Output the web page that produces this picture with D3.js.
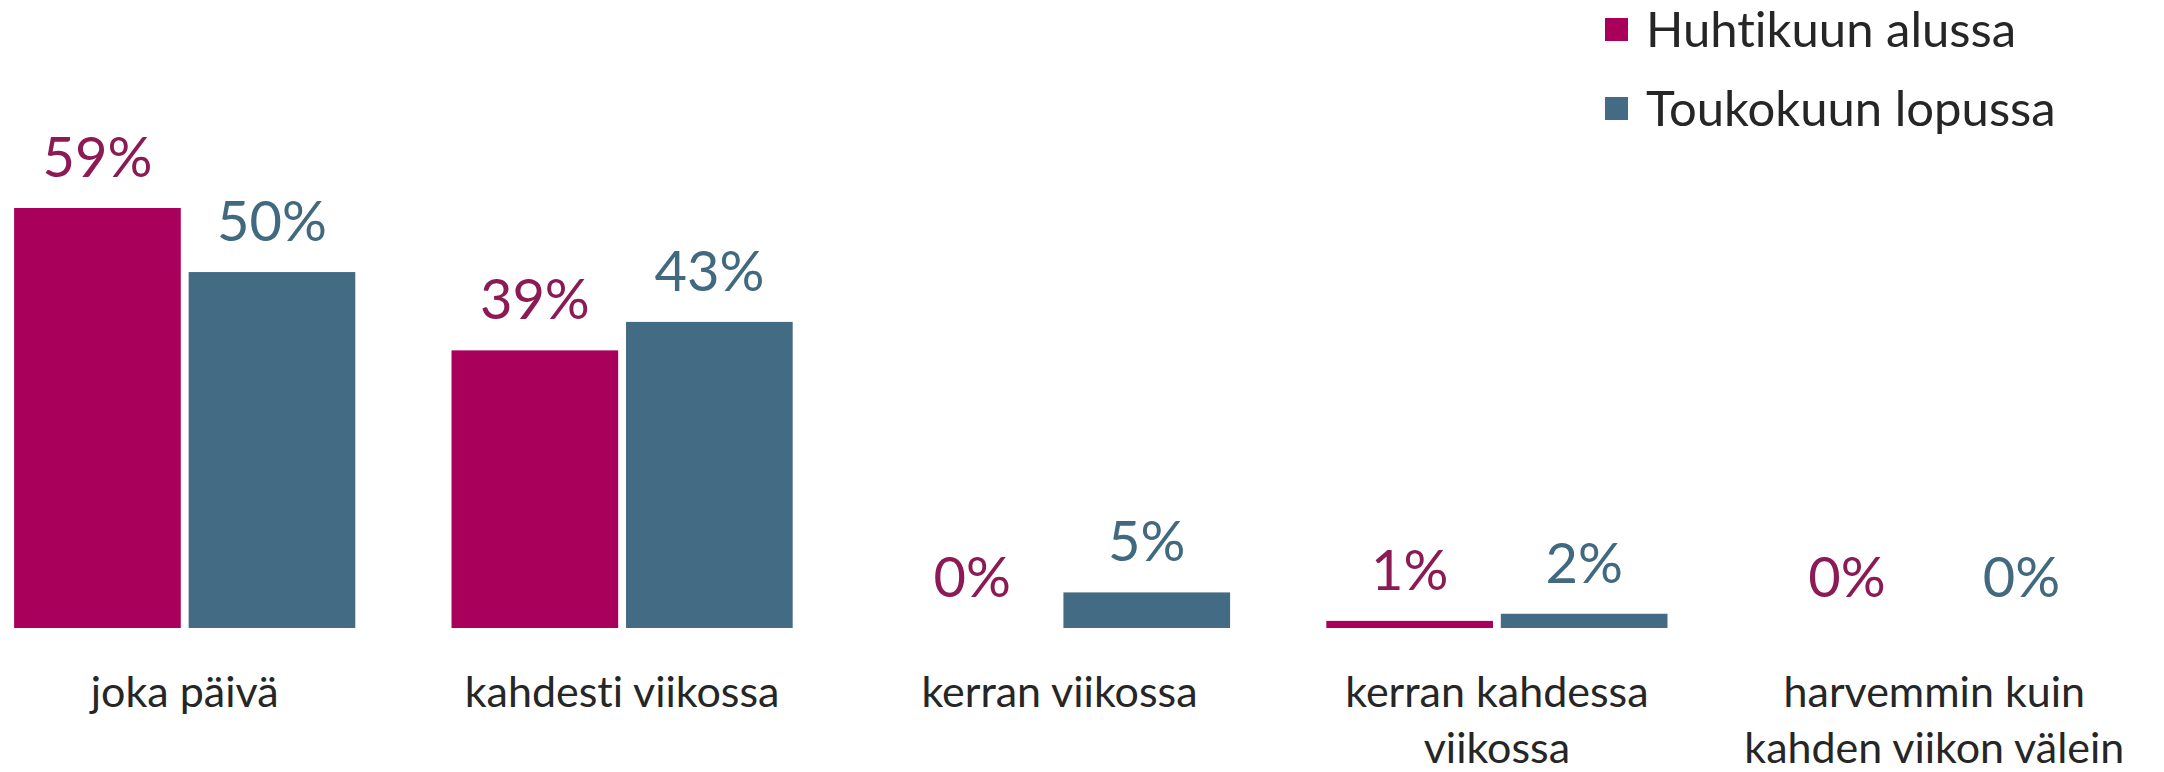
<!DOCTYPE html>
<html>
<head>
<meta charset="utf-8">
<script src="https://cdn.jsdelivr.net/npm/d3@7"></script>
<style>
  body { margin: 0; background: #fff; }
  text { font-family: Lato, "Noto Sans", sans-serif; font-variant-ligatures: none; }
</style>
</head>
<body>
<script>
// data
var categories = [
    ["joka päivä"],
    ["kahdesti viikossa"],
    ["kerran viikossa"],
    ["kerran kahdessa", "viikossa"],
    ["harvemmin kuin", "kahden viikon välein"]
];
var seriesNames = ["Huhtikuun alussa", "Toukokuun lopussa"];
var april = [59, 39, 0, 1, 0];
var may = [50, 43, 5, 2, 0];

var barColors = ["#a8005b", "#436b84"];
var labelColors = ["#8c1a55", "#41697f"];

// dimensions
var width = 2164, height = 772;
var baseline = 628;

var svg = d3.select("body")
    .append("svg")
        .attr("width", width)
        .attr("height", height);

var x0 = d3.scaleBand()
    .domain(d3.range(categories.length))
    .range([-34, 2153])
    .paddingInner(0.22)
    .paddingOuter(0.11);

var x1 = d3.scaleBand()
    .domain([0, 1])
    .range([0, x0.bandwidth()])
    .paddingInner(0.045);

var y = d3.scaleLinear().domain([0, 59]).range([baseline, 208]);

var rows = categories.map(function(c, i) {
    return {i: i, values: [april[i], may[i]]};
});

var groups = svg.append("g")
    .selectAll("g")
    .data(rows)
    .enter()
    .append("g")
        .attr("transform", function(d) { return "translate(" + x0(d.i) + ",0)"; });

groups.selectAll("rect")
    .data(function(d) { return d.values; })
    .enter()
    .append("rect")
        .attr("x", function(d, j) { return x1(j); })
        .attr("y", function(d) { return y(d); })
        .attr("width", x1.bandwidth())
        .attr("height", function(d) { return baseline - y(d); })
        .style("fill", function(d, j) { return barColors[j]; });

groups.selectAll("text.val")
    .data(function(d) { return d.values; })
    .enter()
    .append("text")
        .attr("class", "val")
        .attr("x", function(d, j) { return x1(j) + x1.bandwidth() / 2; })
        .attr("y", function(d) { return y(d) - 31; })
        .style("text-anchor", "middle")
        .style("font-size", "56px")
        .style("fill", function(d, j) { return labelColors[j]; })
        .text(function(d) { return d + "%"; });

// category labels
var xAxis = svg.append("g");
categories.forEach(function(lines, i) {
    var t = xAxis.append("text")
        .attr("x", x0(i) + x0.bandwidth() / 2)
        .attr("y", 707)
        .style("text-anchor", "middle")
        .style("font-size", "43px")
        .style("fill", "#262626");
    lines.forEach(function(l, k) {
        t.append("tspan")
            .attr("x", x0(i) + x0.bandwidth() / 2)
            .attr("dy", k == 0 ? 0 : 56)
            .text(l);
    });
});

// legend
var legend = svg.append("g")
    .selectAll("g")
    .data(seriesNames)
    .enter()
    .append("g")
        .attr("transform", function(d, i) { return "translate(1605," + (30 + i * 79) + ")"; });

legend.append("rect")
    .attr("x", 0)
    .attr("y", -12)
    .attr("width", 23)
    .attr("height", 23)
    .style("fill", function(d, i) { return barColors[i]; });

legend.append("text")
    .attr("x", 41)
    .attr("y", 17)
    .style("font-size", "49px")
    .style("fill", "#262626")
    .text(function(d) { return d; });
</script>
</body>
</html>
